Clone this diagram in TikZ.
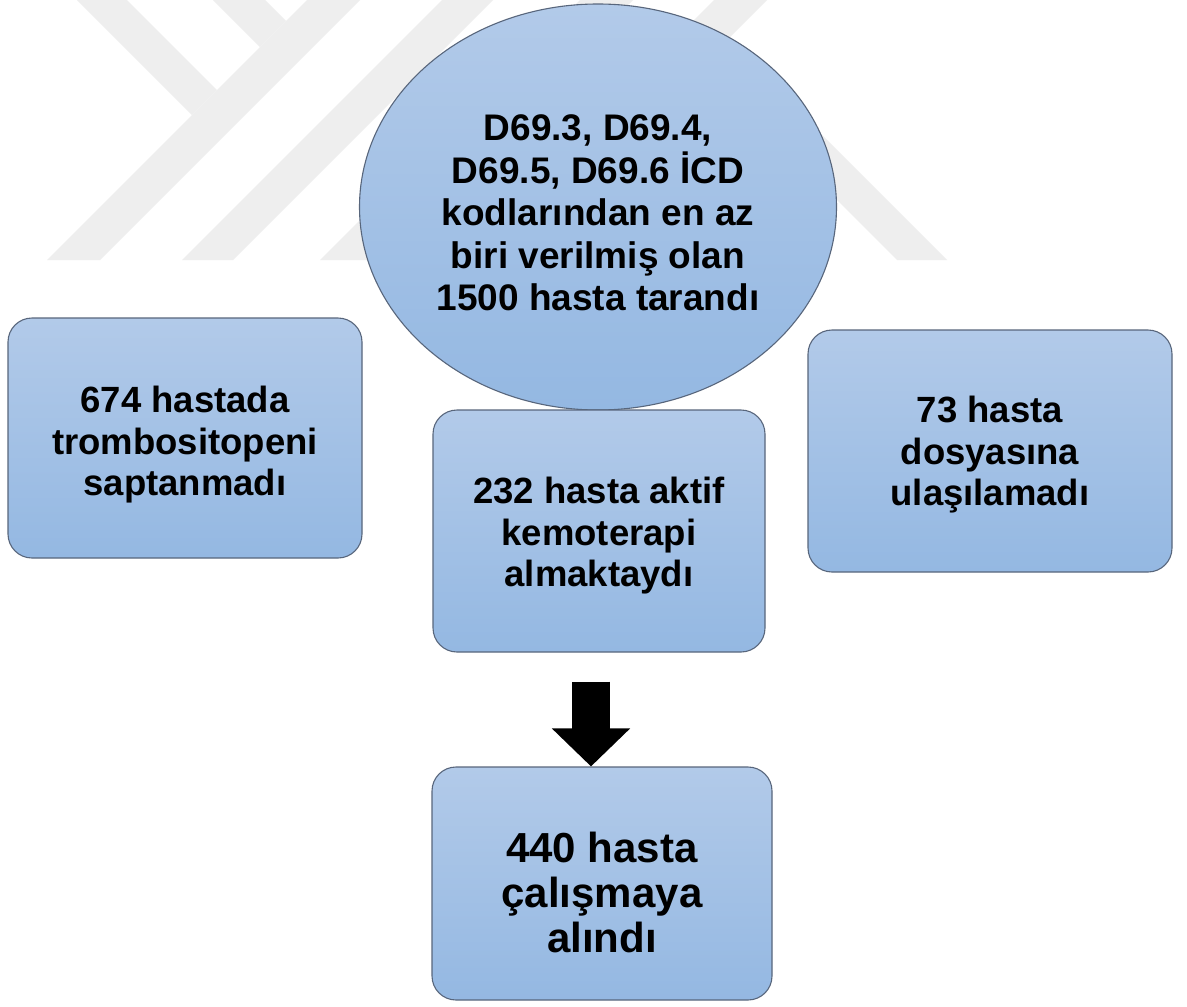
\documentclass[tikz,border=0pt]{standalone}
\usepackage{fontspec}
\setmainfont{Liberation Sans}
\usetikzlibrary{shapes.geometric,arrows.meta}
\definecolor{wm}{RGB}{238,238,238}
\definecolor{boxtop}{RGB}{178,202,233}
\definecolor{boxbot}{RGB}{148,184,226}
\definecolor{boxline}{RGB}{88,102,124}
\begin{document}
\begin{tikzpicture}[x=1pt,y=-1pt,
  shapebase/.style={draw=boxline, line width=1.1pt, top color=boxtop, bottom color=boxbot, inner sep=0pt},
  flowbox/.style={shapebase, rectangle, rounded corners=24pt},
  flowoval/.style={shapebase, ellipse},
  txt/.style={align=center, inner sep=0pt, font=\fontsize{36.5}{41.5}\selectfont\bfseries},
  ovaltxt/.style={txt, font=\fontsize{37}{42.5}\selectfont\bfseries},
  bigtext/.style={align=center, inner sep=0pt, font=\fontsize{42}{45}\selectfont\bfseries},
  blockarrow/.style={line width=38pt, -{Triangle[width=76pt,length=38pt]}}]
\useasboundingbox (0,0) rectangle (1187,1007);
\fill[white] (0,0) rectangle (1187,1007);
% watermark
\begin{scope}
\clip (0,0) rectangle (1187,262);
\fill[wm] (307,0) -- (360,0) -- (100,260) -- (47,260) -- cycle;
\fill[wm] (77,0) -- (127,0) -- (217,90) -- (192,115) -- cycle;
\fill[wm] (213,0) -- (265,0) -- (286,21) -- (260,47) -- cycle;
\fill[wm] (442,0) -- (493,0) -- (233,260) -- (182,260) -- cycle;
\fill[wm] (580,0) -- (633,0) -- (373,260) -- (320,260) -- cycle;
\fill[wm] (714,0) -- (767,0) -- (507,260) -- (454,260) -- cycle;
\fill[wm] (727,40) -- (947,260) -- (897,260) -- (702,65) -- cycle;
\end{scope}
% shapes
\node[flowoval, minimum width=477pt, minimum height=406pt] (scan) at (598,207) {};
\node[ovaltxt] (scantext) at (598,213)
  {D69.3, D69.4,\\D69.5, D69.6 İCD\\kodlarından en az\\biri verilmiş olan\\1500 hasta tarandı};
\node[flowbox, minimum width=354pt, minimum height=240pt] (noplt) at (185,438) {};
\node[txt] (noplttext) at (185,445) {674 hastada\\trombositopeni\\saptanmadı};
\node[flowbox, minimum width=332pt, minimum height=242pt] (chemo) at (599,531) {};
\node[txt] (chemotext) at (599,536) {232 hasta aktif\\kemoterapi\\almaktaydı};
\node[flowbox, minimum width=364pt, minimum height=242pt] (nofile) at (990,451) {};
\node[txt] (nofiletext) at (990,455) {73 hasta\\dosyasına\\ulaşılamadı};
\node[flowbox, minimum width=340pt, minimum height=233pt] (incl) at (602,883.5) {};
\node[bigtext] (incltext) at (602,892) {440 hasta\\çalışmaya\\alındı};
% arrow
\draw[blockarrow] ([xshift=-8pt,yshift=-29pt]chemo.south) -- ([xshift=-11pt]incl.north);
\end{tikzpicture}
\end{document}
